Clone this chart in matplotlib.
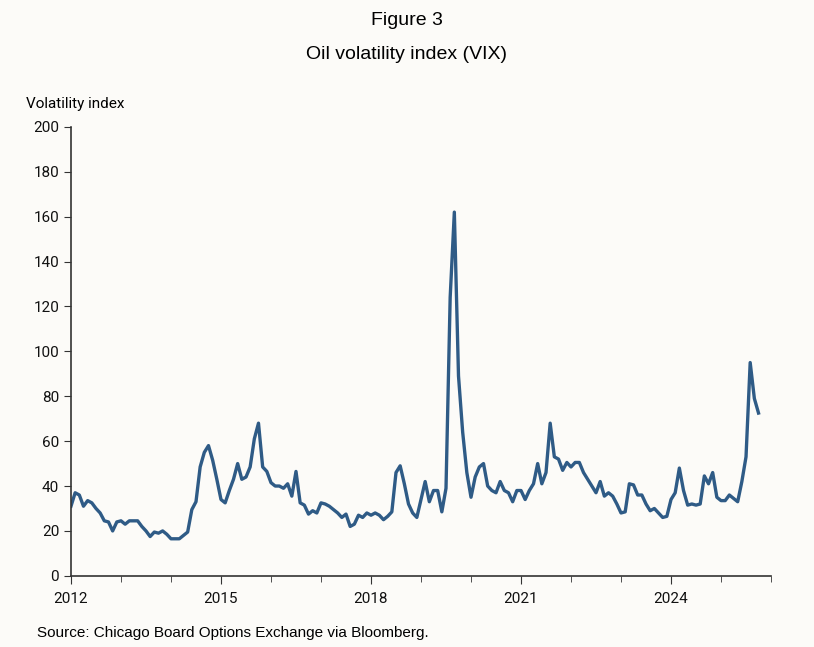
import matplotlib.pyplot as plt
import numpy as np
import pandas as pd

vix = [31, 37, 36, 31, 33.5, 32.5, 30, 28, 24.5, 24, 20, 24,
       24.5, 23, 24.5, 24.5, 24.5, 22, 20, 17.5, 19.5, 19, 20, 18.5,
       16.5, 16.5, 16.5, 18, 19.5, 29.5, 33, 48.5, 55, 58, 51.5, 43,
       34, 32.5, 38, 43, 50, 43, 44, 48.5, 61, 68, 48.5, 46.5,
       41.5, 40, 40, 39, 41, 35.5, 46.5, 32.5, 31.5, 27.5, 29, 28,
       32.5, 32, 31, 29.5, 28, 26, 27.5, 22, 23, 27, 26, 28,
       27, 28, 27, 25, 26.5, 28.5, 46, 49, 41, 32, 28, 26,
       34, 42, 33, 38, 38, 28.5, 39, 124, 162, 89, 64, 46,
       35, 44, 48.5, 50, 40, 38, 37, 42, 38, 37, 33, 38,
       38, 34, 38, 41, 50, 41, 46, 68, 53, 52, 47, 50.5,
       48.5, 50.5, 50.5, 46, 43, 40, 37, 42, 35.5, 37, 35.5, 32,
       28, 28.5, 41, 40.5, 36, 36, 32, 29, 30, 28, 26, 26.5,
       34, 37, 48, 38, 31.5, 32, 31.5, 32, 44.5, 41, 46, 35,
       33.5, 33.5, 36, 34.5, 33, 42, 53, 95, 79, 72.5]

years = 2012 + np.arange(len(vix)) / 12
major_years = [2012, 2015, 2018, 2021, 2024]

bg = '#fcfbf8'
fig = plt.figure(figsize=(8.14, 6.47), dpi=100, facecolor=bg)
ax = fig.add_axes([0.0872, 0.110, 0.860, 0.694], facecolor=bg)

ax.plot(years, vix, color='#2f5b86', linewidth=2.4)

ax.set_xlim(2012, 2026)
ax.set_ylim(0, 200)
ax.set_yticks(range(0, 201, 20))
ax.set_xticks(major_years)
ax.set_xticks(range(2012, 2027), minor=True)
for s in ['top', 'right']:
    ax.spines[s].set_visible(False)
for s in ['left', 'bottom']:
    ax.spines[s].set_color('#333333')
    ax.spines[s].set_linewidth(1.2)
ax.tick_params(axis='both', which='both', direction='out', color='#333333',
               labelsize=11, labelcolor='#111111')
ax.tick_params(axis='x', which='major', length=6, pad=6)
ax.tick_params(axis='x', which='minor', length=4)
ax.tick_params(axis='y', length=5)
for lab in ax.get_xticklabels() + ax.get_yticklabels():
    lab.set_family('Roboto')

fig.text(0.5, 0.968, 'Figure 3', ha='center', va='center', fontsize=14,
         family='Liberation Sans')
fig.text(0.5, 0.915, 'Oil volatility index (VIX)', ha='center', va='center',
         fontsize=14, family='Liberation Sans')
fig.text(0.032, 0.840, 'Volatility index', ha='left', va='center', fontsize=11,
         family='Roboto')
fig.text(0.045, 0.021, 'Source: Chicago Board Options Exchange via Bloomberg.',
         ha='left', va='center', fontsize=11, family='Liberation Sans')

fig.savefig('out.png', dpi=100, facecolor=bg)
